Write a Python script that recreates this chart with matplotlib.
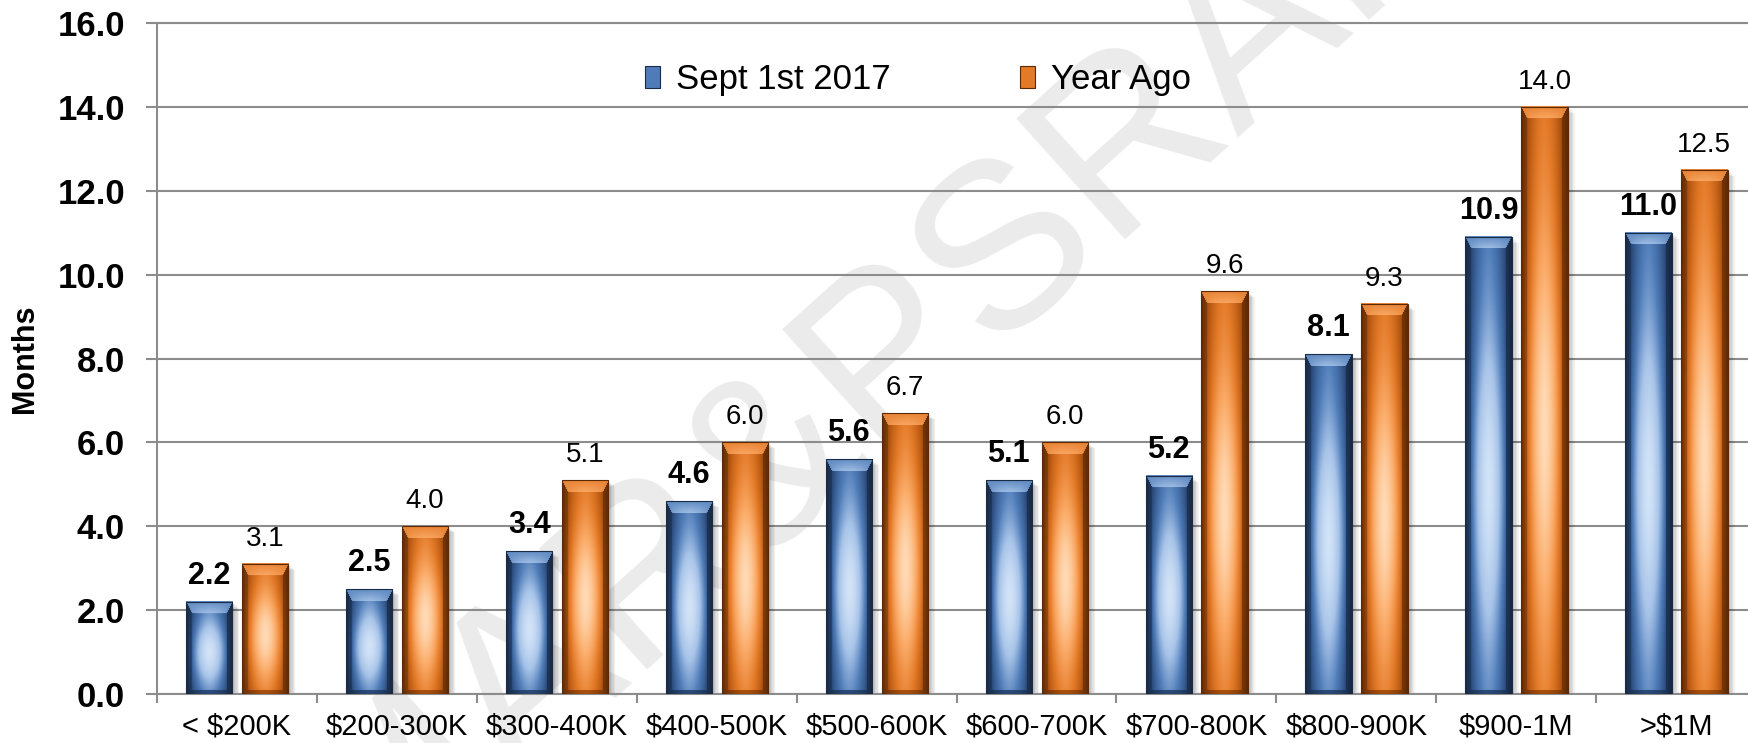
import numpy as np
import matplotlib
matplotlib.use('Agg')
import matplotlib.pyplot as plt
from matplotlib.patches import Rectangle, Patch
from matplotlib.colors import LinearSegmentedColormap
from matplotlib.ticker import FixedLocator

# ---------------- data ----------------
categories = ['< $200K', '$200-300K', '$300-400K', '$400-500K', '$500-600K',
              '$600-700K', '$700-800K', '$800-900K', '$900-1M', '>$1M']
sept_2017 = [2.2, 2.5, 3.4, 4.6, 5.6, 5.1, 5.2, 8.1, 10.9, 11.0]
year_ago = [3.1, 4.0, 5.1, 6.0, 6.7, 6.0, 9.6, 9.3, 14.0, 12.5]
series_names = ['Sept 1st 2017', 'Year Ago']
y_ticks = [0, 2, 4, 6, 8, 10, 12, 14, 16]
y_label = 'Months'
watermark = 'MAR&PSRAR'

plt.rcParams['font.family'] = ['Liberation Sans', 'DejaVu Sans']

W, H = 1748, 743
fig = plt.figure(figsize=(W / 100, H / 100), dpi=100)
ax_l, ax_r, ax_t, ax_b = 157, 1756, 23, 694
ax = fig.add_axes([ax_l / W, 1 - ax_b / H, (ax_r - ax_l) / W, (ax_b - ax_t) / H])

n = len(categories)
px_x = (ax_r - ax_l) / n
px_y = (ax_b - ax_t) / (y_ticks[-1] - y_ticks[0])

bar_w = 0.29
offsets = [-0.173, 0.177]

blue_cmap = LinearSegmentedColormap.from_list(
    'b', ['#172741', '#2c4d7e', '#4f7cb8', '#a6c3e8', '#d2e3f7'])
orange_cmap = LinearSegmentedColormap.from_list(
    'o', ['#5e2a06', '#b0530e', '#e37a28', '#fbab68', '#ffdab5'])
edge_cols = ['#1a2b45', '#5a2a08']
mid_cols = ['#4f7cb8', '#e37a28']


def bar_image(h_units, cmap):
    wpx = int(round(bar_w * px_x))
    hpx = max(int(round(h_units * px_y)), 2)
    X, Y = np.meshgrid(np.arange(wpx) + 0.5, np.arange(hpx) + 0.5)
    u = (X - wpx / 2) / (wpx / 2)
    v = Y / hpx
    s_h = 1 - np.abs(u) ** 1.7
    s_v = np.exp(-((v - 0.55) / 0.36) ** 2)
    light = s_h * (0.45 + 0.55 * s_v)
    S, T, B = 6.0, 12.0, 4.0
    stack = np.stack([X / S, (wpx - X) / S, Y / T, (hpx - Y) / B])
    face = np.argmin(stack, axis=0)
    bev = np.min(stack, axis=0) < 1
    light = np.where(bev & (face == 2), 0.55 + 0.18 * s_h * (Y / T), light)
    light = np.where(bev & (face == 0), light * 0.55, light)
    light = np.where(bev & (face == 1), light * 0.35, light)
    light = np.where(bev & (face == 3), light * 0.40, light)
    return cmap(np.clip(light, 0, 1))


# watermark
ax.text(880 / W, 1 - 360 / H, watermark, transform=fig.transFigure,
        rotation=42, fontsize=170, color='#ebebeb', ha='center', va='center',
        zorder=0.1, clip_on=False)

for si, (vals, cmap) in enumerate(zip([sept_2017, year_ago], [blue_cmap, orange_cmap])):
    for i, val in enumerate(vals):
        x0 = i + offsets[si] - bar_w / 2
        # soft shadow to the right
        for k in range(1, 6):
            ax.add_patch(Rectangle((x0 + k * 1.4 / px_x, 0), bar_w,
                                   max(val - k * 1.2 / px_y, 0),
                                   facecolor='black', alpha=0.06, lw=0, zorder=2))
        ax.imshow(bar_image(val, cmap), extent=(x0, x0 + bar_w, 0, val),
                  aspect='auto', origin='upper', interpolation='bilinear', zorder=3)
        ax.add_patch(Rectangle((x0, 0), bar_w, val, fill=False,
                               edgecolor=edge_cols[si], lw=0.8, zorder=4))
        ax.annotate(f'{val:.1f}', (i + offsets[si], val), xytext=(0, 13),
                    textcoords='offset points', ha='center', va='baseline',
                    fontsize=22 if si == 0 else 20,
                    fontweight='bold' if si == 0 else 'normal', color='black',
                    zorder=5)

ax.set_xlim(-0.5, n - 0.5)
ax.set_ylim(y_ticks[0], y_ticks[-1])

grid_col = '#8c8c8c'
ax.set_axisbelow(True)
ax.yaxis.grid(True, color=grid_col, lw=1.5)
ax.set_yticks(y_ticks)
ax.set_yticklabels([f'{t:.1f}' for t in y_ticks], fontsize=25, fontweight='bold')
ax.tick_params(axis='y', direction='out', length=8, width=1.5, color=grid_col, pad=15)

ax.set_xticks(range(n))
ax.set_xticklabels(categories, fontsize=21)
ax.xaxis.set_minor_locator(FixedLocator(np.arange(-0.5, n, 1.0)))
ax.tick_params(axis='x', which='major', length=0, pad=13)
ax.tick_params(axis='x', which='minor', direction='out', length=6.5, width=1.5, color=grid_col)

for side in ['left', 'bottom', 'top']:
    ax.spines[side].set_color(grid_col)
    ax.spines[side].set_linewidth(1.5)
ax.spines['right'].set_visible(False)

ax.set_ylabel(y_label, fontsize=22, fontweight='bold')
ax.yaxis.set_label_coords(-0.073, 0.5)

handles = [Patch(facecolor=mid_cols[k], edgecolor=edge_cols[k], lw=0.8) for k in range(2)]
ax.legend(handles, series_names, loc='center left',
          bbox_to_anchor=(645 / W, 1 - 80 / H), bbox_transform=fig.transFigure,
          ncol=2, frameon=False, fontsize=25, handlelength=0.43, handleheight=0.6,
          handletextpad=0.45, columnspacing=3.75, borderpad=0, borderaxespad=0)

fig.savefig('out.png', dpi=100)
